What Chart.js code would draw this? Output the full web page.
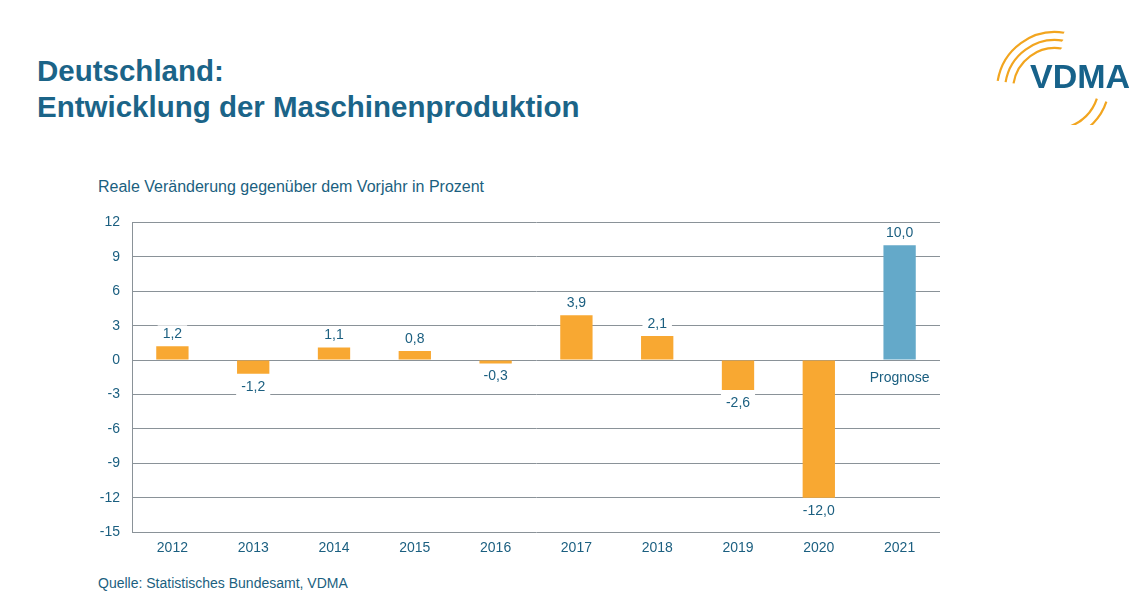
<!DOCTYPE html>
<html><head><meta charset="utf-8">
<script src="https://cdn.jsdelivr.net/npm/chart.js@4"></script>
<style>
body{margin:0;background:#fff;font-family:"Liberation Sans",Arial,sans-serif;}
#wrap{position:relative;width:1143px;height:610px;}
h1{position:absolute;left:37px;top:53px;margin:0;font-size:29.5px;line-height:36px;color:#1b6488;font-weight:bold;}
#sub{position:absolute;left:98px;top:178px;font-size:16px;color:#1b5f80;}
#src{position:absolute;left:98px;top:575px;font-size:14px;color:#1b5f80;}
#logo{position:absolute;left:975px;top:20px;}
#box{position:absolute;left:92px;top:202px;width:868px;height:363px;}
</style></head><body>
<div id="wrap">
<h1>Deutschland:<br>Entwicklung der Maschinenproduktion</h1>
<canvas id="logo" width="165" height="105"></canvas>
<div id="sub">Reale Veränderung gegenüber dem Vorjahr in Prozent</div>
<div id="box"><canvas id="c"></canvas></div>
<div id="src">Quelle: Statistisches Bundesamt, VDMA</div>
</div>
<script>
const years = ['2012','2013','2014','2015','2016','2017','2018','2019','2020','2021'];
const values = [1.2, -1.2, 1.1, 0.8, -0.3, 3.9, 2.1, -2.6, -12.0, 10.0];
const barColors = ['#f8a832','#f8a832','#f8a832','#f8a832','#f8a832','#f8a832','#f8a832','#f8a832','#f8a832','#64a9c9'];

// logo
const lc = document.getElementById('logo').getContext('2d');
lc.strokeStyle = '#f2a51f'; lc.lineWidth = 2.2;
[[70,60,42],[70,60,50],[70,60,58]].forEach(a => {
  lc.beginPath(); lc.arc(a[0]+10, a[1]+10, a[2], Math.PI*1.05, Math.PI*1.55); lc.stroke();
});
[[70,60,44],[70,60,54]].forEach(a => {
  lc.beginPath(); lc.arc(a[0]+10, a[1]+5, a[2], Math.PI*0.1, Math.PI*0.4); lc.stroke();
});
lc.fillStyle = '#17628a'; lc.font = 'bold 34px "Liberation Sans"';
lc.fillText('VDMA', 55, 68);

const labelPlugin = {
  id: 'labels',
  afterDatasetsDraw(chart) {
    const ctx = chart.ctx;
    const meta = chart.getDatasetMeta(0);
    ctx.save();
    ctx.font = '14px "Liberation Sans"';
    ctx.textAlign = 'center';
    ctx.textBaseline = 'middle';
    meta.data.forEach((bar, i) => {
      const v = values[i];
      const txt = v.toFixed(1).replace('.', ',');
      const y = v >= 0 ? bar.y - 12 : bar.y + 13;
      const w = ctx.measureText(txt).width + 10;
      ctx.fillStyle = '#fff';
      ctx.fillRect(bar.x - w/2, y - 9, w, 18);
      ctx.fillStyle = '#1b5f80';
      ctx.fillText(txt, bar.x, y);
    });
    const last = meta.data[9];
    const y0 = chart.scales.y.getPixelForValue(0);
    ctx.fillText('Prognose', last.x, y0 + 18);
    ctx.restore();
  }
};

new Chart(document.getElementById('c'), {
  type: 'bar',
  data: { labels: years, datasets: [{ data: values, backgroundColor: barColors, categoryPercentage: 1, barPercentage: 0.4 }] },
  options: {
    responsive: true, maintainAspectRatio: false, animation: false,
    layout: { padding: { right: 20, top: 8 } },
    plugins: { legend: { display: false }, tooltip: { enabled: false } },
    scales: {
      y: {
        min: -15, max: 12,
        afterFit(s) { s.width = 40; },
        ticks: { stepSize: 3, color: '#1b5f80', font: { size: 14, family: 'Liberation Sans' }, padding: 12 },
        grid: { color: '#8a9298', drawTicks: false },
        border: { display: true, color: '#8a9298' }
      },
      x: {
        ticks: { color: '#1b5f80', font: { size: 14, family: 'Liberation Sans' }, padding: 8 },
        grid: { display: false, drawTicks: false },
        border: { display: false }
      }
    }
  },
  plugins: [labelPlugin]
});
</script>
</body></html>
